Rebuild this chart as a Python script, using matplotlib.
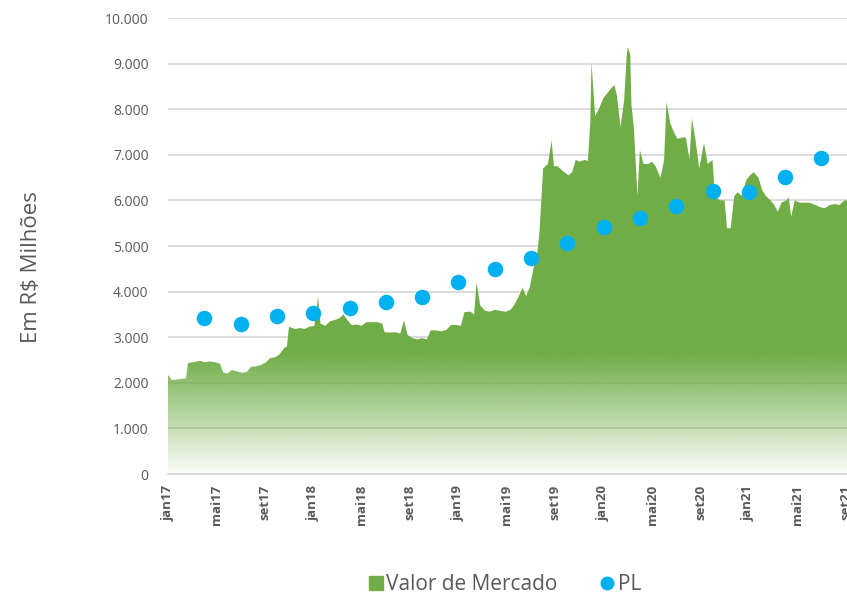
import matplotlib.pyplot as plt
import numpy as np
from matplotlib.lines import Line2D

# months since jan/2017 and market value (R$ millions)
mv_month = [0.0, 0.33, 0.99, 1.49, 1.65, 2.23, 2.64, 3.06, 3.47, 3.88, 4.30, 4.55, 4.88,
            5.29, 5.70, 6.12, 6.53, 6.86, 7.27, 7.69, 8.10, 8.43, 8.84, 9.17, 9.59, 9.83,
            10.0, 10.5, 10.9, 11.3, 11.7, 12.1, 12.4, 12.6, 13.0, 13.4, 13.8, 14.2, 14.5,
            14.9, 15.2, 15.6, 16.0, 16.4, 16.9, 17.3, 17.7, 17.9, 18.3, 18.8, 19.2, 19.5,
            19.8, 20.2, 20.6, 21.0, 21.4, 21.7, 22.1, 22.6, 23.0, 23.4, 23.8, 24.2, 24.5,
            25.0, 25.3, 25.5, 25.8, 26.2, 26.6, 27.0, 27.4, 27.9, 28.3, 28.6, 28.9, 29.3,
            29.6, 29.9, 30.2, 30.5, 30.7, 31.0, 31.4, 31.7, 31.9, 32.2, 32.6, 33.1, 33.4,
            33.7, 34.0, 34.5, 34.7, 34.9, 35.0, 35.3, 35.6, 36.0, 36.3, 36.6, 36.9, 37.1,
            37.4, 37.7, 37.9, 38.0, 38.2, 38.3, 38.5, 38.8, 39.0, 39.3, 39.7, 40.0, 40.3,
            40.7, 41.0, 41.2, 41.5, 41.8, 42.1, 42.5, 42.8, 43.1, 43.3, 43.6, 43.9, 44.3,
            44.6, 45.0, 45.2, 45.6, 46.0, 46.2, 46.5, 46.8, 47.1, 47.4, 47.8, 48.1, 48.4,
            48.8, 49.1, 49.4, 49.8, 50.1, 50.4, 50.7, 51.1, 51.3, 51.5, 51.8, 52.2, 52.6,
            53.0, 53.5, 53.9, 54.3, 54.7, 55.1, 55.5, 55.9, 56.2]
mv_value = [2170, 2060, 2080, 2100, 2430, 2460, 2480, 2450, 2470, 2450, 2420, 2230, 2200,
            2280, 2250, 2220, 2240, 2350, 2360, 2390, 2450, 2540, 2560, 2610, 2760, 2800,
            3230, 3180, 3200, 3180, 3230, 3250, 3880, 3300, 3250, 3350, 3380, 3420, 3500,
            3350, 3260, 3280, 3250, 3330, 3330, 3330, 3300, 3110, 3100, 3110, 3080, 3370,
            3050, 2980, 2950, 2980, 2950, 3150, 3150, 3130, 3160, 3270, 3270, 3250, 3550,
            3560, 3500, 4200, 3700, 3580, 3560, 3600, 3580, 3560, 3600, 3700, 3850, 4080,
            3900, 4100, 4500, 4800, 5300, 6700, 6800, 7320, 6750, 6750, 6650, 6550, 6620,
            6890, 6850, 6890, 6860, 7700, 9030, 7850, 8000, 8250, 8350, 8450, 8530, 8300,
            7600, 8200, 9150, 9360, 9200, 8100, 7600, 6100, 7100, 6800, 6800, 6850, 6750,
            6500, 6880, 8160, 7700, 7500, 7350, 7380, 7380, 6900, 7800, 7320, 6700, 7260,
            6800, 6890, 6100, 6000, 6000, 5390, 5390, 6100, 6180, 6100, 6450, 6550, 6620,
            6500, 6230, 6100, 6000, 5900, 5750, 5950, 6000, 6070, 5640, 6000, 5950, 5950,
            5950, 5900, 5850, 5830, 5900, 5920, 5900, 6000, 6000]

# quarterly book value (PL)
pl_month = [3, 6, 9, 12, 15, 18, 21, 24, 27, 30, 33, 36, 39, 42, 45, 48, 51, 54]
pl_value = [3420, 3290, 3460, 3530, 3640, 3770, 3880, 4210, 4500, 4740, 5070, 5420,
            5610, 5880, 6210, 6180, 6510, 6930]

tick_labels = ['jan17', 'mai17', 'set17', 'jan18', 'mai18', 'set18', 'jan19', 'mai19',
               'set19', 'jan20', 'mai20', 'set20', 'jan21', 'mai21', 'set21']

green = '#70AD47'
blue = '#00B0F0'
grey_txt = '#595959'

plt.rcParams['font.family'] = ['Open Sans', 'DejaVu Sans']

fig = plt.figure(figsize=(8.47, 5.97), dpi=100)
ax = fig.add_axes([168 / 847, 123 / 597, 692 / 847, 456 / 597])
ax.set_xlim(0, 692 / 12.1)
ax.set_ylim(0, 10000)

# gradient filled area
poly = ax.fill_between(mv_month, 0, mv_value, color='none', lw=0)
path = poly.get_paths()[0]
n = 256
yy = np.linspace(0, 1, n)[:, None]
alpha = np.clip(0.03 + yy * 10000 / 2700, 0, 1)
rgba = np.zeros((n, 1, 4))
rgba[..., 0] = 0x70 / 255
rgba[..., 1] = 0xAD / 255
rgba[..., 2] = 0x47 / 255
rgba[..., 3] = alpha
im = ax.imshow(rgba, origin='lower', aspect='auto',
               extent=[0, 692 / 12.1, 0, 10000], zorder=2, interpolation='bilinear')
im.set_clip_path(path, transform=ax.transData)

ax.scatter(pl_month, pl_value, s=125, color=blue, zorder=4, linewidths=0)

ax.set_yticks(np.arange(0, 10001, 1000))
ax.set_yticklabels(['0'] + [f'{v:,}'.replace(',', '.') for v in range(1000, 10001, 1000)])
ax.set_xticks(np.arange(0, 57, 4))
ax.set_xticklabels(tick_labels, rotation=90, fontweight='bold', fontsize=9.5)
ax.grid(axis='y', color='#d9d9d9', lw=1.3, zorder=1)
ax.set_axisbelow(True)
for s in ['left', 'right', 'top']:
    ax.spines[s].set_visible(False)
ax.spines['bottom'].set_color('#d9d9d9')
ax.spines['bottom'].set_linewidth(1.3)
ax.tick_params(axis='y', length=0, labelsize=10, colors=grey_txt, pad=14)
ax.tick_params(axis='x', length=0, colors=grey_txt, pad=8)

fig.text(0.037, 1 - 267 / 597, 'Em R$ Milhões', rotation=90, va='center', ha='center',
         fontsize=16, color=grey_txt)

handles = [Line2D([], [], marker='s', ls='none', color=green, markersize=9.5),
           Line2D([], [], marker='o', ls='none', color=blue, markersize=9)]
fig.legend(handles, ['Valor de Mercado', 'PL'], loc='center', bbox_to_anchor=(500 / 847, 12 / 597),
           ncol=2, frameon=False, fontsize=15, handletextpad=-0.3, handlelength=1.6,
           columnspacing=1.6, labelcolor=grey_txt)

fig.savefig('out.png', dpi=100)
